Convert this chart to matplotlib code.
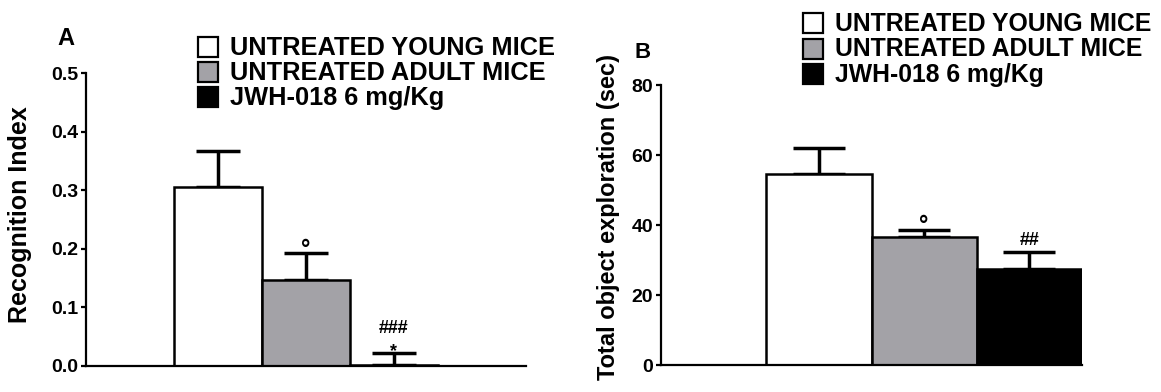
import numpy as np
import matplotlib.pyplot as plt
from matplotlib.patches import Rectangle

plt.rcParams['font.family'] = ['Liberation Sans', 'DejaVu Sans']
plt.rcParams['font.weight'] = 'bold'

# Data
groups = ['UNTREATED YOUNG MICE', 'UNTREATED ADULT MICE', 'JWH-018 6 mg/Kg']
colors = ['white', '#a3a2a7', 'black']

recog_mean = [0.306, 0.147, 0.001]
recog_err = [0.061, 0.045, 0.021]
recog_marks = ['', '°', '*']
recog_marks2 = ['', '', '###']

explor_mean = [54.6, 36.6, 27.4]
explor_err = [7.3, 2.0, 4.9]
explor_marks = ['', '°', '##']

x = np.array([1, 2, 3])

W, H = 1161, 392
fig = plt.figure(figsize=(W / 100, H / 100), dpi=100)
axA = fig.add_axes([86 / W, 1 - 366 / H, 440 / W, 293 / H])
axB = fig.add_axes([661 / W, 1 - 365 / H, 421 / W, 280 / H])


def style(ax):
    for s in ['top', 'right']:
        ax.spines[s].set_visible(False)
    for s in ['left', 'bottom']:
        ax.spines[s].set_linewidth(1.6)
    ax.set_xticks([])
    ax.tick_params(axis='y', direction='out', length=3.6, width=1.6, labelsize=14, pad=2)
    for lab in ax.get_yticklabels():
        lab.set_fontweight('bold')


def mark(ax, txt, xi, y, dy, size):
    ax.annotate(txt, (xi, y), xytext=(0, dy), textcoords='offset points',
                ha='center', va='baseline', fontsize=size, fontweight='bold')


# Panel A
axA.bar(x, recog_mean, width=1.0, color=colors, edgecolor='black', linewidth=1.8, zorder=2)
axA.errorbar(x, recog_mean, yerr=[np.zeros(3), recog_err], fmt='none', ecolor='black',
             elinewidth=2.5, capsize=15.8, capthick=2.5, zorder=1)
axA.set_xlim(-0.5, 4.5)
axA.set_ylim(0, 0.5)
axA.set_yticks([0.0, 0.1, 0.2, 0.3, 0.4, 0.5])
axA.set_yticklabels(['0.0', '0.1', '0.2', '0.3', '0.4', '0.5'])
axA.set_ylabel('Recognition Index', fontsize=18, fontweight='bold')
axA.yaxis.set_label_coords(-0.123, 0.517)
style(axA)
for xi, m, e, t1, t2 in zip(x, recog_mean, recog_err, recog_marks, recog_marks2):
    if t1 == '°':
        mark(axA, t1, xi, m + e, -2.0, 17)
    elif t1:
        mark(axA, t1, xi, m + e, -2.4, 13)
    if t2:
        mark(axA, t2, xi, m + e, 14.4, 13)

# Panel B
axB.bar(x, explor_mean, width=1.0, color=colors, edgecolor='black', linewidth=1.8, zorder=2)
axB.errorbar(x, explor_mean, yerr=[np.zeros(3), explor_err], fmt='none', ecolor='black',
             elinewidth=2.5, capsize=19, capthick=2.5, zorder=1)
axB.set_xlim(-0.5, 3.5)
axB.set_ylim(0, 80)
axB.set_yticks([0, 20, 40, 60, 80])
axB.set_ylabel('Total object exploration (sec)', fontsize=17, fontweight='bold')
axB.yaxis.set_label_coords(-0.097, 0.53)
style(axB)
for xi, m, e, t in zip(x, explor_mean, explor_err, explor_marks):
    if t == '°':
        mark(axB, t, xi, m + e, -1.2, 17)
    elif t:
        mark(axB, t, xi, m + e, 5.0, 13)

# Panel letters
fig.text(57 / W, 1 - 45 / H, 'A', fontsize=17, fontweight='bold', va='baseline')
fig.text(635 / W, 1 - 58 / H, 'B', fontsize=16, fontweight='bold', va='baseline')


# Legends (square 20 px, row pitch 25 px)
def legend(x0, y0, pitch, size):
    for i, (c, g) in enumerate(zip(colors, groups)):
        top = y0 + i * pitch
        fig.patches.append(Rectangle((x0 / W, 1 - (top + 20) / H), 20 / W, 20 / H,
                                     transform=fig.transFigure, facecolor=c,
                                     edgecolor='black', linewidth=1.6))
        fig.text((x0 + 32) / W, 1 - (top + 18) / H, g, fontsize=size,
                 fontweight='bold', va='baseline')


legend(198, 37, 25, 18.3)
legend(803, 13, 25.5, 17.8)

fig.savefig('out.png', dpi=100)
